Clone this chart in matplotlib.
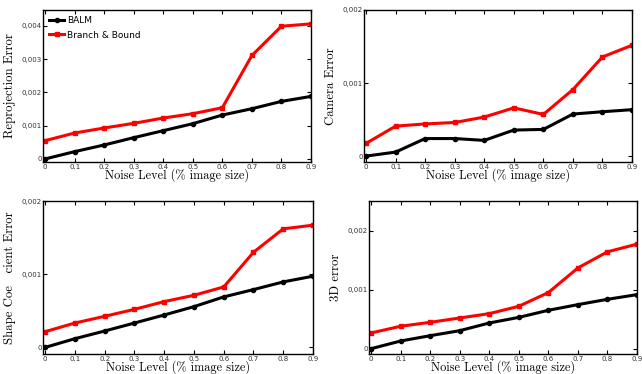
import matplotlib
matplotlib.use('Agg')
import matplotlib.pyplot as plt
from matplotlib.ticker import FixedLocator, FixedFormatter

# Valores
noise = [0, 0.1, 0.2, 0.3, 0.4, 0.5, 0.6, 0.7, 0.8, 0.9]
x_labels = ['0', '0.1', '0.2', '0.3', '0.4', '0.5', '0.6', '0.7', '0.8', '0.9']

reproj_balm = [0, 0.00022, 0.00042, 0.00064, 0.00085, 0.00106, 0.00132, 0.00151, 0.00173, 0.00188]
reproj_bb = [0.00055, 0.00078, 0.00093, 0.00107, 0.00123, 0.00136, 0.00154, 0.00311, 0.00399, 0.00406]

camera_balm = [0, 0.000055, 0.00024, 0.00024, 0.000215, 0.000356, 0.000365, 0.000575, 0.000607, 0.000635]
camera_bb = [0.000174, 0.00041, 0.00044, 0.00046, 0.000534, 0.00066, 0.00057, 0.00091, 0.001356, 0.001516]

shape_balm = [0, 0.000119, 0.000224, 0.000333, 0.000443, 0.000557, 0.00069, 0.00079, 0.000895, 0.000973]
shape_bb = [0.000215, 0.000333, 0.000425, 0.00052, 0.000626, 0.000712, 0.000826, 0.0013, 0.00162, 0.00167]

err3d_balm = [0, 0.00013, 0.00022, 0.000305, 0.000435, 0.00053, 0.00065, 0.000746, 0.000836, 0.000915]
err3d_bb = [0.000266, 0.00038, 0.000446, 0.00052, 0.000593, 0.000718, 0.00095, 0.001367, 0.00164, 0.00177]

ticks_4 = [0, 0.001, 0.002, 0.003, 0.004]
labels_4 = ['0', '0,001', '0,002', '0,003', '0,004']
ticks_2 = [0, 0.001, 0.002]
labels_2 = ['0', '0,001', '0,002']

serif = 'cmr10'

fig = plt.figure(figsize=(6.42, 3.74), dpi=100)

# (posicion, balm, bb, ylabel, ylim, ticks, labels)
paneles = [
    ([0.067, 0.567, 0.4174, 0.4065], reproj_balm, reproj_bb, 'Reprojection Error',
     (-0.00009, 0.00448), ticks_4, labels_4),
    ([0.567, 0.567, 0.4174, 0.4065], camera_balm, camera_bb, 'Camera Error',
     (-0.00008, 0.002), ticks_2, labels_2),
    ([0.067, 0.0535, 0.4206, 0.409], shape_balm, shape_bb, 'Shape Coe   cient Error',
     (-0.00009, 0.002), ticks_2, labels_2),
    ([0.5748, 0.0535, 0.4174, 0.409], err3d_balm, err3d_bb, '3D error',
     (-0.00009, 0.0025), ticks_2, labels_2),
]

for i, (pos, balm, bb, ylab, ylim, yt, yl) in enumerate(paneles):
    ax = fig.add_axes(pos)
    ax.plot(noise, balm, color='black', lw=2.2, marker='o', ms=3, label='BALM')
    ax.plot(noise, bb, color='#ff0000', lw=2.2, marker='s', ms=3, label='Branch & Bound')
    ax.set_xlim(-0.007, 0.9)
    ax.set_ylim(*ylim)
    ax.xaxis.set_major_locator(FixedLocator(noise))
    ax.xaxis.set_major_formatter(FixedFormatter(x_labels))
    ax.yaxis.set_major_locator(FixedLocator(yt))
    ax.yaxis.set_major_formatter(FixedFormatter(yl))
    ax.tick_params(direction='in', top=True, right=True, length=3, width=0.8,
                   labelsize=5, colors='black', labelcolor='#333333')
    ax.tick_params(axis='x', pad=1.5)
    ax.tick_params(axis='y', pad=1)
    for s in ax.spines.values():
        s.set_linewidth(1.0)
    ax.set_xlabel('Noise Level (% image size)', family=serif, fontsize=8.8, labelpad=-1)
    ax.set_ylabel(ylab, family=serif, fontsize=9.2, labelpad=4)
    if i == 0:
        ax.legend(loc='upper left', frameon=False, fontsize=6.5, handlelength=1.6,
                  handletextpad=0.4, borderaxespad=0.3, labelspacing=0.6)

fig.savefig('out.png', dpi=100)
